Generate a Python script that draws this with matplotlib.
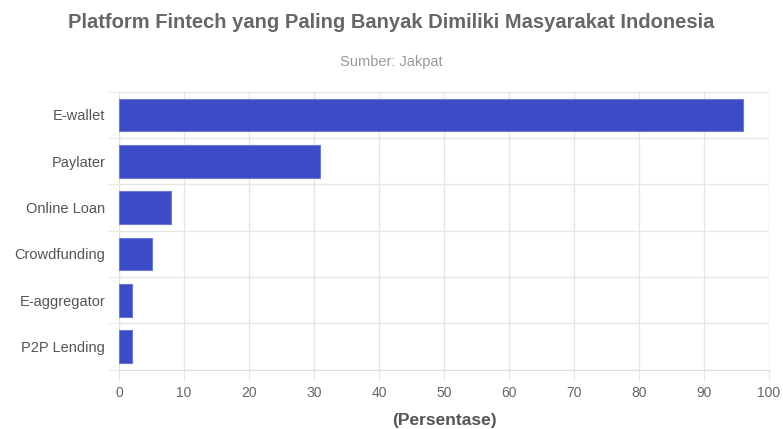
import numpy as np
import matplotlib.pyplot as plt

plt.rcParams['font.family'] = ['Liberation Sans', 'DejaVu Sans']

categories = ["E-wallet", "Paylater", "Online Loan", "Crowdfunding", "E-aggregator", "P2P Lending"]
values = [96, 31, 8, 5, 2, 2]

fig = plt.figure(figsize=(7.83, 4.29), dpi=100)
ax = fig.add_axes([0.152, 0.138, 0.830, 0.648])

y = np.arange(len(categories))
ax.barh(y, values, height=0.7, color='#3c4bc6', edgecolor='#6d78d8', linewidth=0.8, zorder=3)

ax.set_xlim(0, 100)
ax.set_ylim(len(categories) - 0.5, -0.5)
ax.set_xticks(np.arange(0, 101, 10))
ax.set_yticks(y)
ax.set_yticklabels(categories)
ax.set_yticks(np.arange(-0.5, len(categories), 1), minor=True)

ax.grid(axis='x', which='major', color='#e6e6e6', linewidth=1, zorder=0)
ax.grid(axis='y', which='minor', color='#e6e6e6', linewidth=1, zorder=0)
ax.tick_params(axis='y', which='major', length=0, pad=10, labelsize=10.5, labelcolor='#555555')
ax.tick_params(axis='y', which='minor', length=8, color='#e6e6e6')
ax.tick_params(axis='x', length=8, color='#e6e6e6', pad=4, labelsize=10, labelcolor='#666666')
for s in ax.spines.values():
    s.set_visible(False)
ax.spines['left'].set_visible(True)
ax.spines['left'].set_color('#e0e0e0')
ax.spines['bottom'].set_visible(True)
ax.spines['bottom'].set_color('#e0e0e0')

ax.set_xlabel("(Persentase)", fontsize=12.5, fontweight='bold', color='#555555', labelpad=9)
fig.text(0.5, 0.948, "Platform Fintech yang Paling Banyak Dimiliki Masyarakat Indonesia",
         ha='center', va='center', fontsize=14.5, fontweight='bold', color='#666666')
fig.text(0.5, 0.855, "Sumber: Jakpat", ha='center', va='center', fontsize=10.5, color='#999999')

plt.savefig("out.png", dpi=100)
